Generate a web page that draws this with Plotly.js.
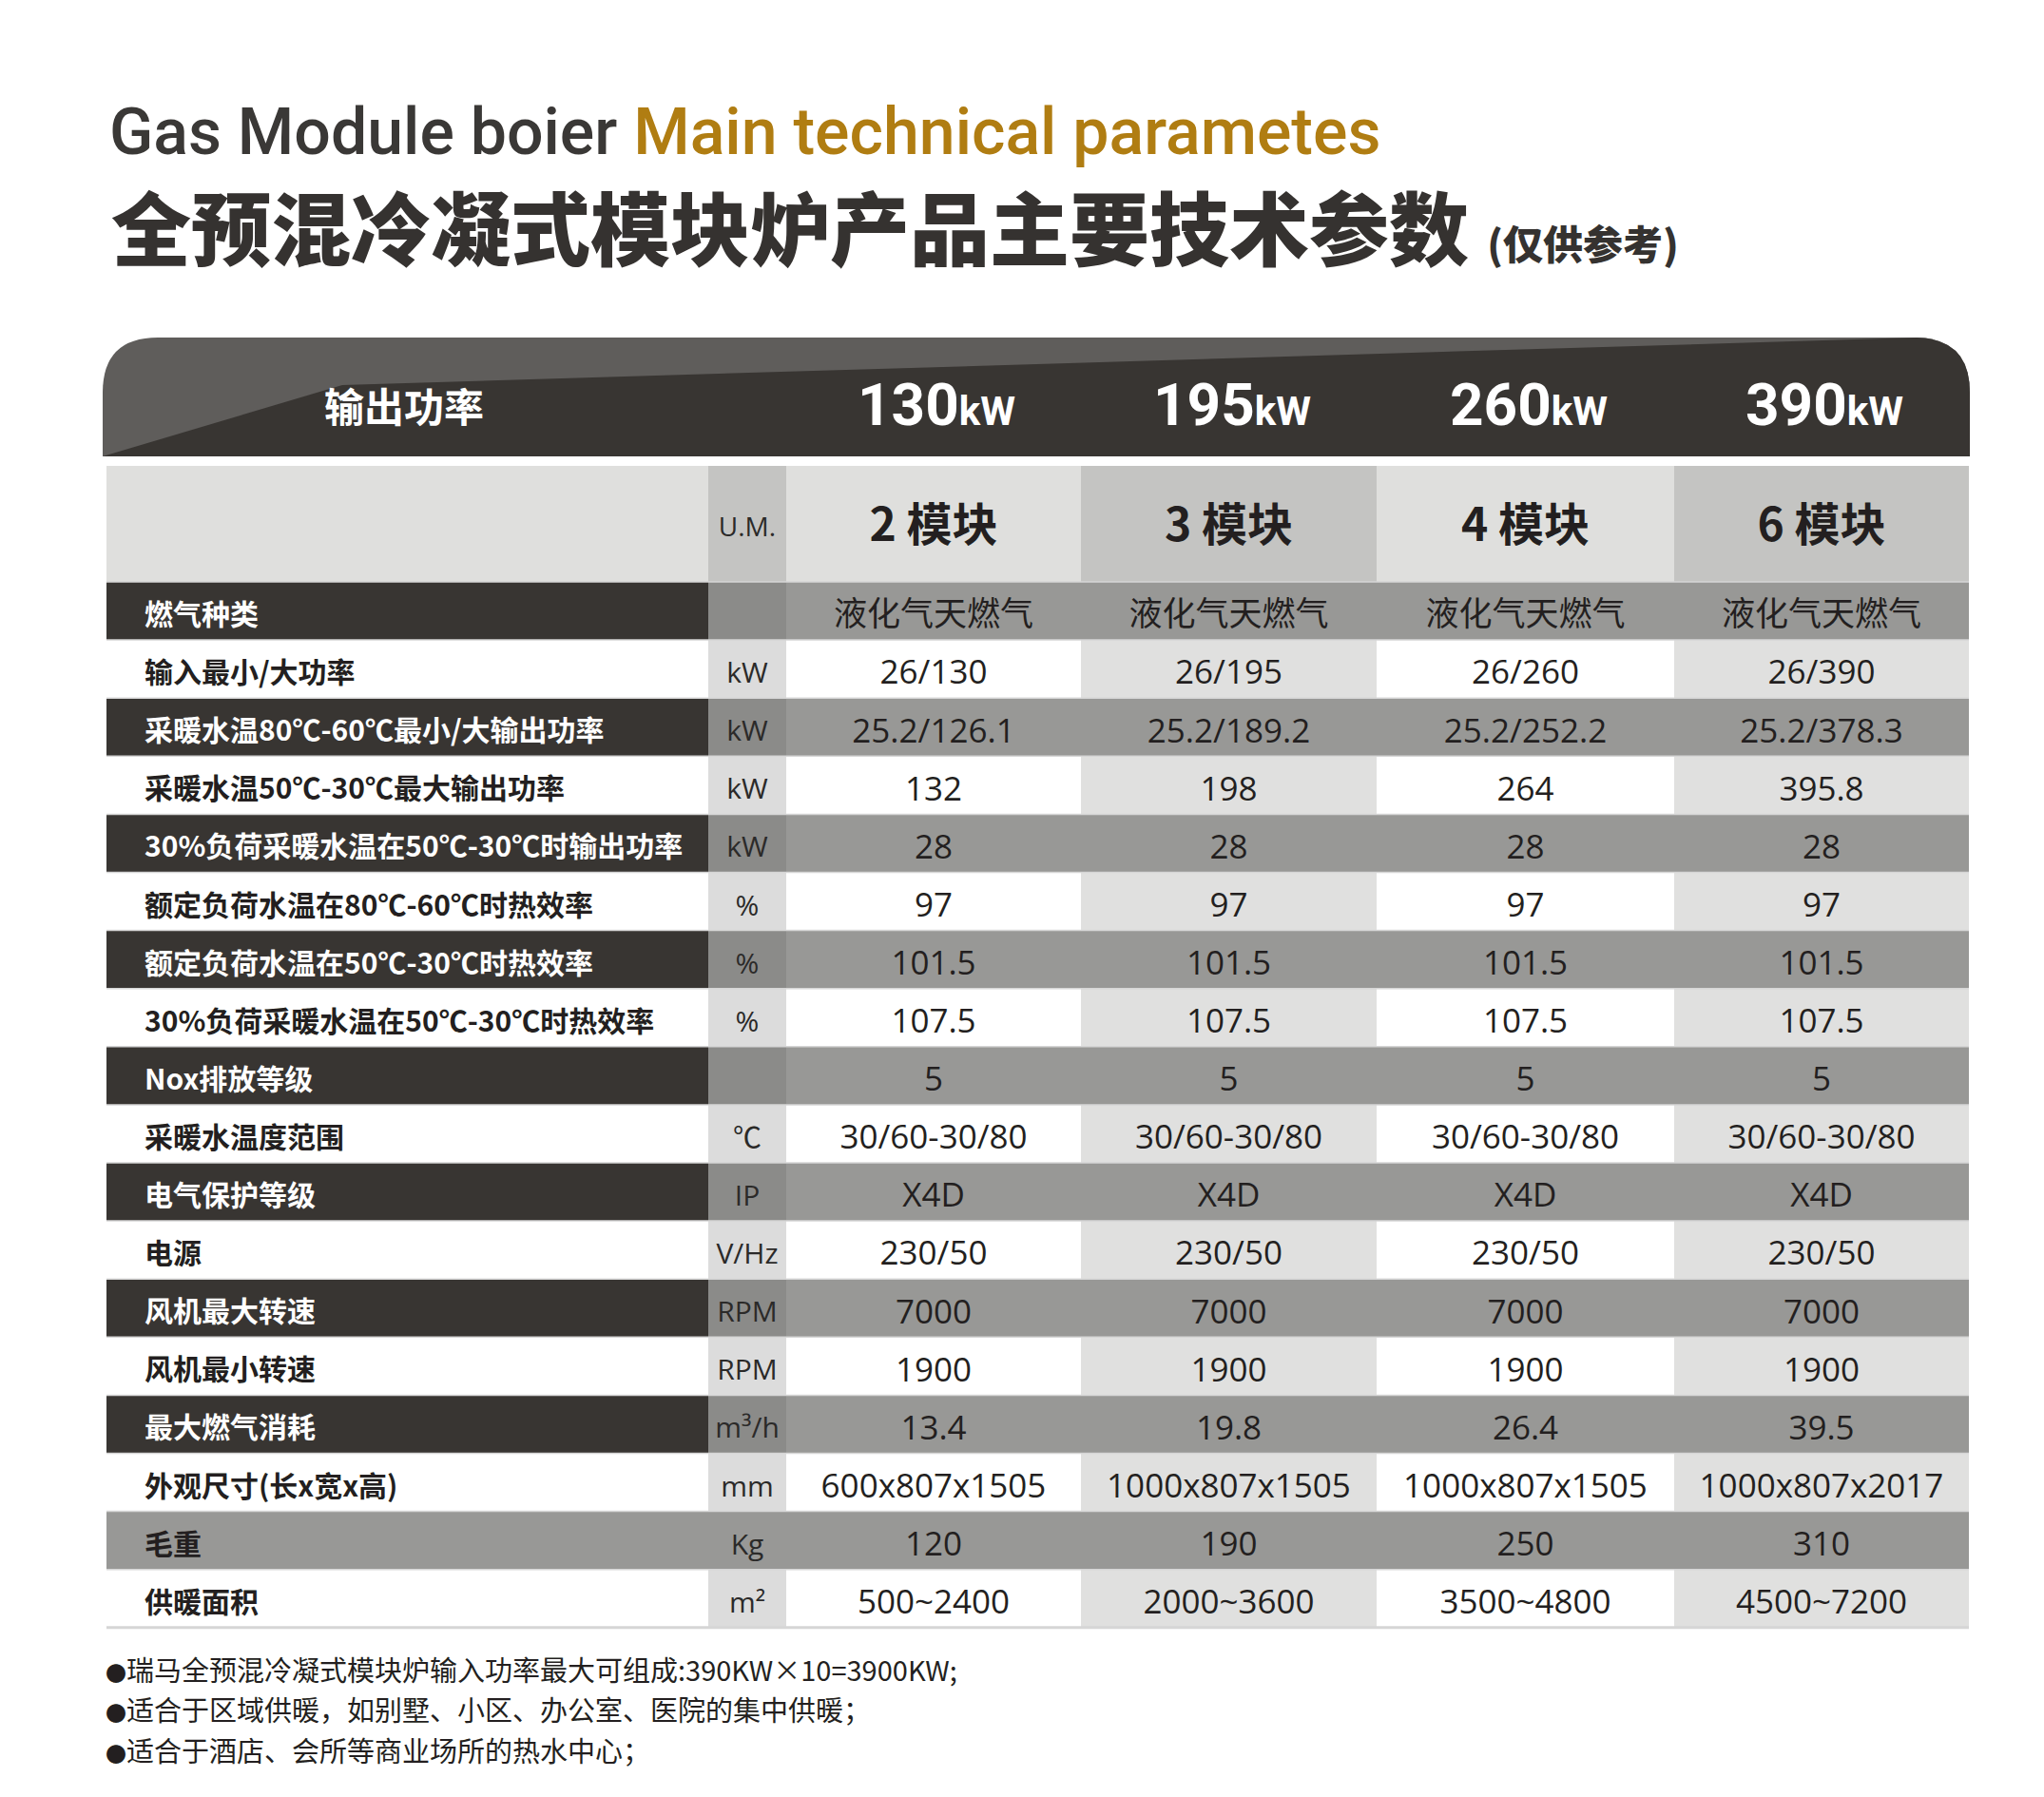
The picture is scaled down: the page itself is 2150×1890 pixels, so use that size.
<!DOCTYPE html>
<html>
<head>
<meta charset="utf-8">
<script src="https://cdn.plot.ly/plotly-3.0.1.min.js"></script>
<style>
  html, body { margin: 0; padding: 0; background: #fff; }
  #chart { width: 2150px; height: 1890px; }
</style>
</head>
<body>
<div id="chart"></div>
<script>
// ── Data ──

const powerRatings = ["130", "195", "260", "390"];
const moduleCounts = ["2 模块", "3 模块", "4 模块", "6 模块"];

const rowLabels = [
    "燃气种类",
    "输入最小/大功率",
    "采暖水温80℃-60℃最小/大输出功率",
    "采暖水温50℃-30℃最大输出功率",
    "30%负荷采暖水温在50℃-30℃时输出功率",
    "额定负荷水温在80℃-60℃时热效率",
    "额定负荷水温在50℃-30℃时热效率",
    "30%负荷采暖水温在50℃-30℃时热效率",
    "Nox排放等级",
    "采暖水温度范围",
    "电气保护等级",
    "电源",
    "风机最大转速",
    "风机最小转速",
    "最大燃气消耗",
    "外观尺寸(长x宽x高)",
    "毛重",
    "供暖面积"
];

const units = ["", "kW", "kW", "kW", "kW", "%", "%", "%", "", "℃", "IP", "V/Hz", "RPM", "RPM", "m³/h", "mm", "Kg", "m²"];

const values130 = ["液化气天燃气", "26/130", "25.2/126.1", "132", "28", "97", "101.5", "107.5", "5", "30/60-30/80", "X4D", "230/50", "7000", "1900", "13.4", "600x807x1505", "120", "500~2400"];
const values195 = ["液化气天燃气", "26/195", "25.2/189.2", "198", "28", "97", "101.5", "107.5", "5", "30/60-30/80", "X4D", "230/50", "7000", "1900", "19.8", "1000x807x1505", "190", "2000~3600"];
const values260 = ["液化气天燃气", "26/260", "25.2/252.2", "264", "28", "97", "101.5", "107.5", "5", "30/60-30/80", "X4D", "230/50", "7000", "1900", "26.4", "1000x807x1505", "250", "3500~4800"];
const values390 = ["液化气天燃气", "26/390", "25.2/378.3", "395.8", "28", "97", "101.5", "107.5", "5", "30/60-30/80", "X4D", "230/50", "7000", "1900", "39.5", "1000x807x2017", "310", "4500~7200"];

const notes = [
    "瑞马全预混冷凝式模块炉输入功率最大可组成:390KW×10=3900KW;",
    "适合于区域供暖，如别墅、小区、办公室、医院的集中供暖；",
    "适合于酒店、会所等商业场所的热水中心；"
];

// ── Layout constants ──

const W = 2150, H = 1890;
const tableLeft = 112;
const colWidths = [633, 82, 310, 311, 313, 310];
const tableTop = 490;
const headHeight = 122;
const rowHeight = 61.1;
const textShift = 7;     // text sits a little below the row middle
const grayRows = [16];   // 毛重 row has a grey label cell

const colEdges = [tableLeft];
colWidths.forEach(w => colEdges.push(colEdges[colEdges.length - 1] + w));
const colCenter = i => (colEdges[i] + colEdges[i + 1]) / 2;
const rowTop = i => tableTop + headHeight + i * rowHeight;
const rowCenter = i => rowTop(i) + rowHeight / 2;
const tableRight = colEdges[colEdges.length - 1];
const tableBottom = rowTop(rowLabels.length);

const C = {
    dark: "#383532", gray: "#989896", grayUm: "#8b8b89",
    white: "#ffffff", lightAlt: "#e0e0df", lightUm: "#dcdcdc",
    headLight: "#dfdfdd", headDark: "#c4c4c2",
    text: "#231f20", bandLight: "#5f5d5b", gold: "#b07d12"
};

const CJK = "Noto Sans CJK SC";
const NUM = "Open Sans, Noto Sans CJK SC";
const NARROW = "Roboto, Open Sans";

// ── Shapes ──

const shapes = [];

function rect(x0, x1, y0, y1, color) {
    shapes.push({ type: "rect", xref: "x", yref: "y", x0, x1, y0, y1,
        fillcolor: color, line: { width: 0 }, layer: "below" });
}

// header band (rounded top) + dark lower part
shapes.push({ type: "path", xref: "x", yref: "y", layer: "below",
    path: "M 108,480 L 108,413 Q 108,355 166,355 L 2014,355 Q 2072,355 2072,413 L 2072,480 Z",
    fillcolor: C.bandLight, line: { width: 0 } });
shapes.push({ type: "path", xref: "x", yref: "y", layer: "below",
    path: "M 108,480 L 360,405 L 2016,355 Q 2072,356 2072,413 L 2072,480 Z",
    fillcolor: C.dark, line: { width: 0 } });

// module header row
const headColors = [C.headLight, C.headDark, C.headLight, C.headDark, C.headLight, C.headDark];
headColors.forEach((c, j) => rect(colEdges[j], colEdges[j + 1], tableTop, tableTop + headHeight, c));

// body rows
const labelColors = [];
rowLabels.forEach((lab, i) => {
    let colors;
    if (grayRows.includes(i)) {
        colors = [C.gray, C.gray, C.gray, C.gray, C.gray, C.gray];
        labelColors.push(C.text);
    } else if (i % 2 === 0) {
        colors = [C.dark, C.grayUm, C.gray, C.gray, C.gray, C.gray];
        labelColors.push("#ffffff");
    } else {
        colors = [C.white, C.lightUm, C.white, C.lightAlt, C.white, C.lightAlt];
        labelColors.push(C.text);
    }
    colors.forEach((c, j) => rect(colEdges[j], colEdges[j + 1], rowTop(i), rowTop(i) + rowHeight, c));
});

// thin row separators
for (let i = 0; i <= rowLabels.length; i++) {
    shapes.push({ type: "line", xref: "x", yref: "y", layer: "below",
        x0: tableLeft, x1: tableRight, y0: rowTop(i), y1: rowTop(i),
        line: { color: "#d6d6d6", width: i === rowLabels.length ? 3 : 1.5 } });
}

// ── Traces ──

const rowYs = rowLabels.map((_, i) => rowCenter(i) + textShift);
const headY = tableTop + headHeight / 2 + 6;
const traces = [];

traces.push({
    type: "scatter", mode: "text", hoverinfo: "skip",
    x: rowLabels.map(() => colEdges[0] + 40), y: rowYs,
    text: rowLabels, textposition: "middle right",
    textfont: { family: CJK, size: 30, weight: 700, color: labelColors }
});

traces.push({
    type: "scatter", mode: "text", hoverinfo: "skip",
    x: units.map(() => colCenter(1)), y: rowYs,
    text: units, textposition: "middle center",
    textfont: { family: NUM, size: 30, color: "#2b2a29" }
});

traces.push({
    type: "scatter", mode: "text", hoverinfo: "skip",
    x: [colCenter(1)], y: [headY],
    text: ["U.M."], textposition: "middle center",
    textfont: { family: NUM, size: 28, color: "#2b2a29" }
});

[values130, values195, values260, values390].forEach((vals, k) => {
    traces.push({
        type: "scatter", mode: "text", hoverinfo: "skip",
        x: vals.map(() => colCenter(k + 2)), y: rowYs,
        text: vals, textposition: "middle center",
        textfont: { family: NUM, size: 35, color: C.text }
    });
});

traces.push({
    type: "scatter", mode: "text", hoverinfo: "skip",
    x: moduleCounts.map((_, k) => colCenter(k + 2)),
    y: moduleCounts.map(() => headY),
    text: moduleCounts, textposition: "middle center",
    textfont: { family: CJK, size: 48, weight: 700, color: C.text }
});

// ── Annotations ──

const annotations = [];

annotations.push({
    xref: "x", yref: "y", x: 113, y: 139, xanchor: "left", yanchor: "middle", showarrow: false,
    text: "Gas Module boier <span style=\"color:" + C.gold + "\">Main technical parametes</span>",
    font: { family: NARROW, size: 68, weight: 500, color: "#3a3836" }
});

annotations.push({
    xref: "x", yref: "y", x: 115, y: 236, xanchor: "left", yanchor: "middle", showarrow: false,
    text: "全预混冷凝式模块炉产品主要技术参数 <span style=\"font-size:42px\">(仅供参考)</span>",
    font: { family: CJK, size: 84, weight: 900, color: "#353230" }
});

annotations.push({
    xref: "x", yref: "y", x: 425, y: 425, xanchor: "center", yanchor: "middle", showarrow: false,
    text: "输出功率", font: { family: CJK, size: 42, weight: 700, color: "#ffffff" }
});

powerRatings.forEach((p, k) => {
    annotations.push({
        xref: "x", yref: "y", x: colCenter(k + 2) + 3, y: 425, xanchor: "center", yanchor: "middle", showarrow: false,
        text: p + "<span style=\"font-size:42px\">kW</span>",
        font: { family: NARROW, size: 62, weight: 700, color: "#ffffff" }
    });
});

notes.forEach((n, k) => {
    annotations.push({
        xref: "x", yref: "y", x: 110, y: tableBottom + 43 + k * 42.5, xanchor: "left", yanchor: "middle",
        showarrow: false, borderpad: 0,
        text: "<span style=\"font-size:22px\">●</span>" + n,
        font: { family: CJK, size: 29, color: C.text }
    });
});

// ── Plot ──

Plotly.newPlot("chart", traces, {
    width: W, height: H,
    margin: { t: 0, l: 0, r: 0, b: 0 },
    paper_bgcolor: "#ffffff", plot_bgcolor: "#ffffff",
    showlegend: false,
    xaxis: { range: [0, W], visible: false, fixedrange: true },
    yaxis: { range: [H, 0], visible: false, fixedrange: true },
    shapes, annotations
}, { displayModeBar: false, staticPlot: true });
</script>
</body>
</html>
